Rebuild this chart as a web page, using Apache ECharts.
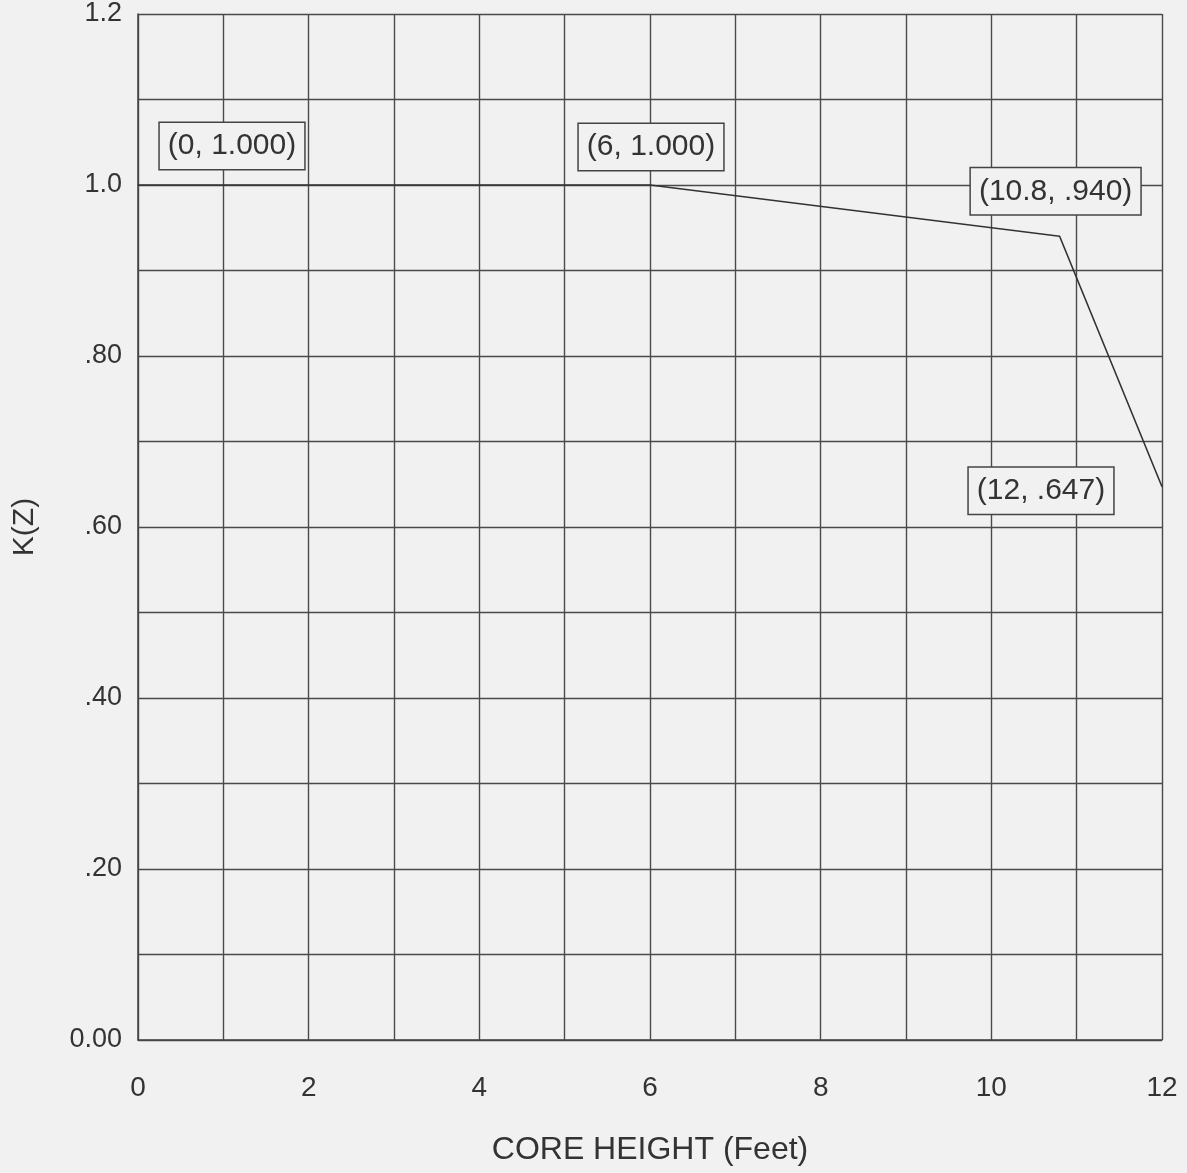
<!DOCTYPE html>
<html style="height: 100%">
<head>
    <meta charset="utf-8">
</head>
<body style="height: 100%; margin: 0; background: #f1f1f1">
    <div id="container" style="width: 1187px; height: 1173px"></div>
    <script src="https://cdn.jsdelivr.net/npm/echarts@6/dist/echarts.min.js"></script>
    <script type="text/javascript">
        // K(Z) curve vs core height
        var coreHeight = [0, 6, 10.8, 12];
        var kz = [1.0, 1.0, 0.94, 0.647];
        var pointLabels = ['(0, 1.000)', '(6, 1.000)', '(10.8, .940)', '(12, .647)'];
        var yTickLabels = ['0.00', '', '.20', '', '.40', '', '.60', '', '.80', '', '1.0', '', '1.2'];

        // label box offsets from each point (px)
        var labelOffsets = [[94, -39], [1, -38], [-4, -45], [-121, 4]];

        var dom = document.getElementById('container');
        var myChart = echarts.init(dom);
        var font = 'Liberation Sans, Arial, sans-serif';

        var seriesData = coreHeight.map(function (x, i) {
            return {
                value: [x, kz[i]],
                label: {
                    show: true,
                    formatter: pointLabels[i],
                    position: 'inside',
                    offset: labelOffsets[i]
                }
            };
        });

        var option = {
            backgroundColor: '#f1f1f1',
            animation: false,
            grid: {
                left: 138,
                right: 25,
                top: 14,
                bottom: 133,
                outerBoundsMode: 'none'
            },
            xAxis: {
                type: 'value',
                min: 0,
                max: 12,
                interval: 1,
                name: 'CORE HEIGHT (Feet)',
                nameLocation: 'middle',
                nameGap: 94,
                nameTextStyle: { fontSize: 32, color: '#333', fontFamily: font },
                axisLine: { show: true, lineStyle: { color: '#444', width: 1.5 } },
                axisTick: { show: false },
                axisLabel: {
                    margin: 34,
                    fontSize: 28,
                    color: '#333',
                    fontFamily: font,
                    formatter: function (v) {
                        return v % 2 === 0 ? String(v) : '';
                    }
                },
                splitLine: { show: true, lineStyle: { color: '#4a4a4a', width: 1.4 } }
            },
            yAxis: {
                type: 'value',
                min: 0,
                max: 1.2,
                interval: 0.1,
                name: 'K(Z)',
                nameLocation: 'middle',
                nameGap: 98,
                nameRotate: 90,
                nameTextStyle: { fontSize: 30, color: '#333', fontFamily: font },
                axisLine: { show: true, lineStyle: { color: '#444', width: 1.5 } },
                axisTick: { show: false },
                axisLabel: {
                    margin: 16,
                    fontSize: 27,
                    color: '#333',
                    fontFamily: font,
                    formatter: function (v) {
                        return yTickLabels[Math.round(v * 10)] || '';
                    }
                },
                splitLine: { show: true, lineStyle: { color: '#4a4a4a', width: 1.4 } }
            },
            series: [{
                type: 'line',
                data: seriesData,
                symbol: 'circle',
                symbolSize: 1,
                itemStyle: { color: '#333' },
                lineStyle: { color: '#333', width: 1.6 },
                label: {
                    fontSize: 30,
                    color: '#333',
                    fontFamily: font,
                    backgroundColor: '#f1f1f1',
                    borderColor: '#444',
                    borderWidth: 1.5,
                    padding: [9, 8, 7, 8]
                },
                z: 5
            }]
        };

        myChart.setOption(option);
    </script>
</body>
</html>
